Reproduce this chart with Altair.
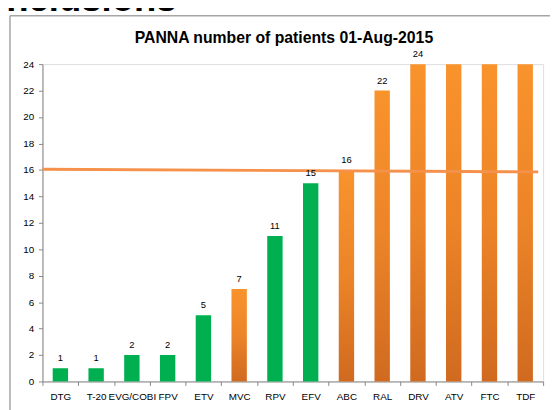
import altair as alt
import pandas as pd

categories = ["DTG", "T-20", "EVG/COBI", "FPV", "ETV", "MVC", "RPV", "EFV",
              "ABC", "RAL", "DRV", "ATV", "FTC", "TDF"]
patients = [1, 1, 2, 2, 5, 7, 11, 15, 16, 22, 24, 24, 24, 24]
groups = ["green", "green", "green", "green", "green", "orange", "green", "green",
          "orange", "orange", "orange", "orange", "orange", "orange"]
labels = ["1", "1", "2", "2", "5", "7", "11", "15", "16", "22", "24", "", "", ""]
y_ticks = [0, 2, 4, 6, 8, 10, 12, 14, 16, 18, 20, 22, 24]
line_start = 16.05
line_end = 15.85

title_text = "PANNA number of patients 01-Aug-2015"
slide_title = "Inclusions"

df = pd.DataFrame({"drug": categories, "n": patients, "grp": groups, "lab": labels})

W, H = 508, 322
FONT = "Liberation Sans"

xenc = alt.X("drug:N", sort=categories, title=None,
             scale=alt.Scale(paddingInner=0, paddingOuter=0),
             axis=alt.Axis(labelAngle=0, labelFontSize=10, labelFont=FONT, labelColor="#000000",
                           labelOverlap=False, labelPadding=6, tickBand="extent",
                           tickSize=4, tickColor="#868686", domainColor="#868686",
                           labelLimit=0))
yscale = alt.Scale(domain=[0, 24], nice=False)
yaxis = alt.Axis(values=y_ticks, tickCount=13, labelFontSize=10, labelFont=FONT,
                 labelColor="#000000", tickSize=4, tickColor="#868686",
                 labelOverlap=False, labelFlush=False,
                 domainColor="#868686", grid=False, labelPadding=5)
yenc = alt.Y("n:Q", title=None, scale=yscale, axis=yaxis)

base = alt.Chart(df)

green_bars = base.transform_filter(alt.datum.grp == "green").mark_bar(
    color="#00B050", width={"band": 0.43}).encode(x=xenc, y=yenc)

orange_bars = base.transform_filter(alt.datum.grp == "orange").mark_bar(
    width={"band": 0.43},
    color=alt.Gradient(gradient="linear", x1=0, x2=0, y1=0, y2=1,
                       stops=[alt.GradientStop(color="#F9932C", offset=0),
                              alt.GradientStop(color="#EC8428", offset=0.5),
                              alt.GradientStop(color="#D06A1F", offset=1)])
).encode(x=xenc, y=yenc)

value_text = base.mark_text(baseline="bottom", dy=-5, fontSize=9.5, font=FONT,
                            color="#000000").encode(x=xenc, y=yenc, text="lab:N")

ref_line = alt.Chart(pd.DataFrame({"a": [0]})).mark_rule(
    color="#F5914A", strokeWidth=3).encode(
    x=alt.value(0), x2=alt.value(W - 5),
    y=alt.YDatum(line_start, scale=yscale, axis=yaxis, title=None),
    y2=alt.Y2Datum(line_end))

frame_top = alt.Chart(pd.DataFrame({"a": [0]})).mark_rule(
    color="#A6A6A6", strokeWidth=1.5).encode(
    x=alt.value(-33), x2=alt.value(W + 20), y=alt.value(-49))
frame_left = alt.Chart(pd.DataFrame({"a": [0]})).mark_rule(
    color="#A6A6A6", strokeWidth=1.5).encode(
    x=alt.value(-33), y=alt.value(-49), y2=alt.value(H + 40))

title_mark = alt.Chart(pd.DataFrame({"t": [title_text]})).mark_text(
    fontSize=16, fontWeight="bold", font=FONT, color="#000000",
    align="center", baseline="alphabetic").encode(
    x=alt.value(245), y=alt.value(-21), text="t:N")

slide_mark = alt.Chart(pd.DataFrame({"t": [slide_title]})).mark_text(
    fontSize=37, fontWeight="bold", font=FONT, color="#000000",
    align="left", baseline="alphabetic").encode(
    x=alt.value(-47), y=alt.value(-54), text="t:N")

chart = alt.layer(frame_top, frame_left, slide_mark, title_mark,
                  green_bars, orange_bars, ref_line, value_text).properties(
    width=W, height=H,
    autosize=alt.AutoSizeParams(type="none"),
    padding={"left": 35, "top": 54, "right": 7, "bottom": 26},
).configure_view(stroke=None).configure(background="white")

chart.save("out.html", embed_options={"renderer": "svg", "actions": False})
